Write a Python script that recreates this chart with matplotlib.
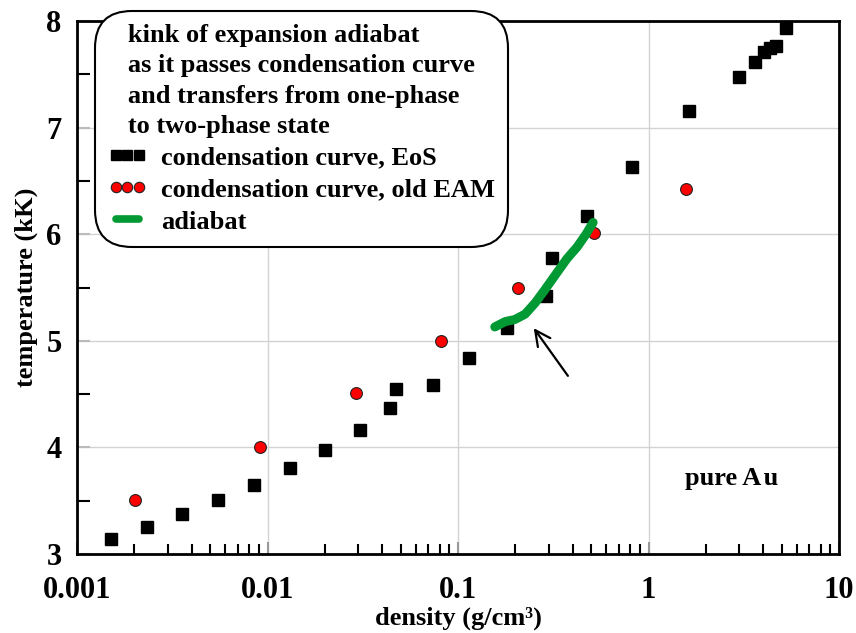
import numpy as np
import matplotlib
matplotlib.use("Agg")
import matplotlib.pyplot as plt
from matplotlib.lines import Line2D

plt.rcParams["font.family"] = ["Liberation Serif", "DejaVu Serif"]
plt.rcParams["font.weight"] = "bold"
plt.rcParams["axes.labelweight"] = "bold"

# condensation curve, EoS
eos_rho = [0.00151, 0.00233, 0.00356, 0.0055, 0.0085, 0.0131, 0.0200, 0.0306,
           0.044, 0.0473, 0.074, 0.114, 0.181, 0.290, 0.311, 0.475, 0.819,
           1.63, 2.99, 3.62, 4.04, 4.34, 4.67, 5.27]
eos_T = [3.14, 3.25, 3.375, 3.51, 3.65, 3.81, 3.98, 4.16,
         4.37, 4.55, 4.585, 4.84, 5.12, 5.42, 5.78, 6.17, 6.63,
         7.16, 7.47, 7.62, 7.71, 7.75, 7.77, 7.93]

# condensation curve, old EAM
eam_rho = [0.00201, 0.00914, 0.0292, 0.0815, 0.206, 0.517, 1.57]
eam_T = [3.51, 4.00, 4.51, 5.00, 5.50, 6.01, 6.42]

# adiabat
adi_rho = [0.156, 0.177, 0.199, 0.225, 0.254, 0.286, 0.331, 0.373, 0.422, 0.470, 0.512]
adi_T = [5.13, 5.18, 5.20, 5.25, 5.355, 5.48, 5.64, 5.77, 5.88, 6.00, 6.11]

fig = plt.figure(figsize=(8.56, 6.33), dpi=100)
ax = fig.add_axes([77 / 856, 1 - 554 / 633, (839 - 77) / 856, (554 - 21) / 633])

ax.set_xscale("log")
ax.set_xlim(0.001, 10)
ax.set_ylim(3, 8)

ax.grid(True, which="major", color="#d3d3d3", linewidth=1.0, zorder=0)

ax.plot(eos_rho, eos_T, linestyle="none", marker="s", markersize=9,
        color="black", zorder=3)
ax.plot(eam_rho, eam_T, linestyle="none", marker="o", markersize=8.5,
        markerfacecolor="#ff0000", markeredgecolor="#222222",
        markeredgewidth=0.8, zorder=4)
ax.plot(adi_rho, adi_T, color="#009933", linewidth=6.5, solid_capstyle="round",
        solid_joinstyle="round", zorder=5)

ax.annotate("", xy=(0.245, 5.14), xytext=(0.385, 4.65),
            arrowprops=dict(arrowstyle="->,head_length=1.1,head_width=0.55",
                            color="black", lw=1.6))

ax.text(2.74, 3.71, "pure A\u200au", fontsize=19, fontweight="bold",
        ha="center", va="center")

ax.set_xticks([0.001, 0.01, 0.1, 1, 10])
ax.set_xticklabels(["0.001", "0.01", "0.1", "1", "10"])
ax.set_yticks([3, 4, 5, 6, 7, 8])
ax.set_yticks([3.5, 4.5, 5.5, 6.5, 7.5], minor=True)

ax.tick_params(which="both", direction="in", top=False, right=False,
               labelsize=22, width=1.5, color="black")
ax.tick_params(axis="y", which="major", length=9, color="#bbbbbb", pad=11)
ax.tick_params(axis="y", which="minor", length=9)
ax.tick_params(axis="x", which="major", length=9, color="#999999", pad=16)
ax.tick_params(axis="x", which="minor", length=7)
for lab in ax.get_xticklabels() + ax.get_yticklabels():
    lab.set_fontweight("bold")

for s in ax.spines.values():
    s.set_linewidth(2)

ax.set_xlabel("density (g/cm³)", fontsize=19, fontweight="bold", labelpad=1)
ax.set_ylabel("temperature (kK)", fontsize=19, fontweight="bold", labelpad=6)

handles = [
    Line2D([], [], linestyle="none", marker="s", markersize=7.5, color="black"),
    Line2D([], [], linestyle="none", marker="o", markersize=7.5,
           markerfacecolor="#ff0000", markeredgecolor="#222222", markeredgewidth=0.8),
    Line2D([], [], color="#009933", linewidth=5.5, solid_capstyle="round"),
]
labels = ["condensation curve, EoS", "condensation curve, old EAM", "adiabat"]
title = ("   kink of expansion adiabat\n"
         "   as it passes condensation curve\n"
         "   and transfers from one-phase\n"
         "   to two-phase state")
leg = ax.legend(handles, labels, title=title, loc="upper left",
                bbox_to_anchor=(95 / 856, 1 - 11 / 633),
                bbox_transform=fig.transFigure, borderaxespad=0,
                numpoints=3, handlelength=1.45, handletextpad=0.55,
                markerscale=1.0, labelspacing=0.32, borderpad=0.5,
                prop={"size": 19, "weight": "bold"},
                title_fontproperties={"size": 19, "weight": "bold"},
                alignment="left", framealpha=1, edgecolor="black",
                fancybox=True)
leg.get_title().set_linespacing(1.4)
leg.get_frame().set_linewidth(1.5)
leg.get_frame().set_boxstyle("round,pad=0,rounding_size=1.4")
leg.set_zorder(10)

fig.savefig("out.png", dpi=100)
